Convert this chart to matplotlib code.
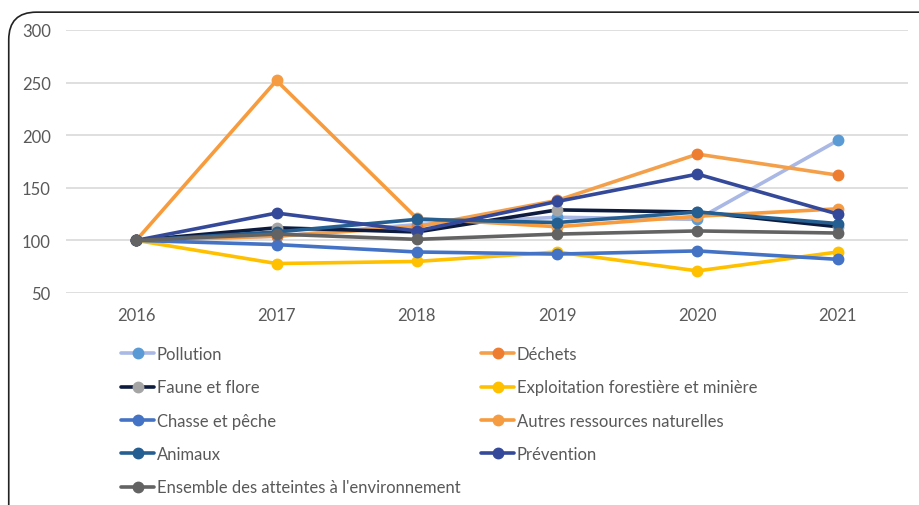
import numpy as np
import matplotlib
matplotlib.use('Agg')
import matplotlib.pyplot as plt
from matplotlib.patches import FancyBboxPatch

plt.rcParams['font.family'] = ['Lato', 'DejaVu Sans']

years = ['2016', '2017', '2018', '2019', '2020', '2021']

pollution = [100, 104, 115, 122, 120, 195]
dechets = [100, 104, 113, 138, 182, 162]
faune = [100, 112, 108, 129, 127, 113]
exploitation = [100, 78, 80, 89, 71, 89]
chasse = [100, 96, 89, 87, 90, 82]
autres = [100, 252, 121, 113, 123, 130]
animaux = [100, 108, 120, 117, 127, 116]
prevention = [100, 126, 109, 137, 163, 125]
ensemble = [100, 106, 101, 106, 109, 107]

labels = ['Pollution', 'Déchets', 'Faune et flore', 'Exploitation forestière et minière',
          'Chasse et pêche', 'Autres ressources naturelles', 'Animaux', 'Prévention',
          "Ensemble des atteintes à l'environnement"]
series = [pollution, dechets, faune, exploitation, chasse, autres, animaux, prevention, ensemble]
line_colors = ['#A9B8E4', '#F4A04A', '#0D1B3E', '#FFC000', '#4472C4', '#F79B3C', '#255E91', '#34499A', '#636363']
marker_colors = ['#5B9BD5', '#ED7D31', '#A5A5A5', '#FFC000', '#4472C4', '#F59B42', '#255E91', '#34499A', '#636363']

fig = plt.figure(figsize=(9.2, 5.06), dpi=100)

# rounded frame of the chart area
frame = FancyBboxPatch((0.0095, -0.2), 1.2, 1.174, boxstyle='round,pad=0,rounding_size=0.03',
                       transform=fig.transFigure, fill=False, edgecolor='#222222', linewidth=1.2,
                       mutation_aspect=920 / 506)
fig.patches.append(frame)

ax = fig.add_axes([66 / 920, 1 - 294 / 506, (908 - 66) / 920, (294 - 31) / 506])
x = np.arange(len(years))
handles = []
for vals, lab, lc, mc in zip(series, labels, line_colors, marker_colors):
    h, = ax.plot(x, vals, color=lc, lw=2.6, marker='o', ms=7.5,
                 markerfacecolor=mc, markeredgecolor=mc, label=lab, solid_capstyle='round')
    handles.append(h)

ax.set_xlim(-0.5, len(years) - 0.5)
ax.set_ylim(50, 300)
ax.set_yticks([50, 100, 150, 200, 250, 300])
ax.set_xticks(x)
ax.set_xticklabels(years)
ax.grid(axis='y', color='#D9D9D9', lw=1.2)
ax.set_axisbelow(True)
for s in ax.spines.values():
    s.set_visible(False)
ax.tick_params(length=0, labelsize=12, colors='#595959', pad=10)
ax.tick_params(axis='y', pad=11)

left_idx = [0, 2, 4, 6, 8]
right_idx = [1, 3, 5, 7]
common = dict(frameon=False, fontsize=12, labelcolor='#595959', handlelength=2.0,
              handletextpad=0.15, labelspacing=1.04, borderpad=0, borderaxespad=0, loc='upper left')
leg1 = fig.legend([handles[i] for i in left_idx], [labels[i] for i in left_idx],
                  bbox_to_anchor=(121 / 920, 1 - 347 / 506), **common)
leg2 = fig.legend([handles[i] for i in right_idx], [labels[i] for i in right_idx],
                  bbox_to_anchor=(481 / 920, 1 - 347 / 506), **common)

fig.savefig('out.png', dpi=100)
